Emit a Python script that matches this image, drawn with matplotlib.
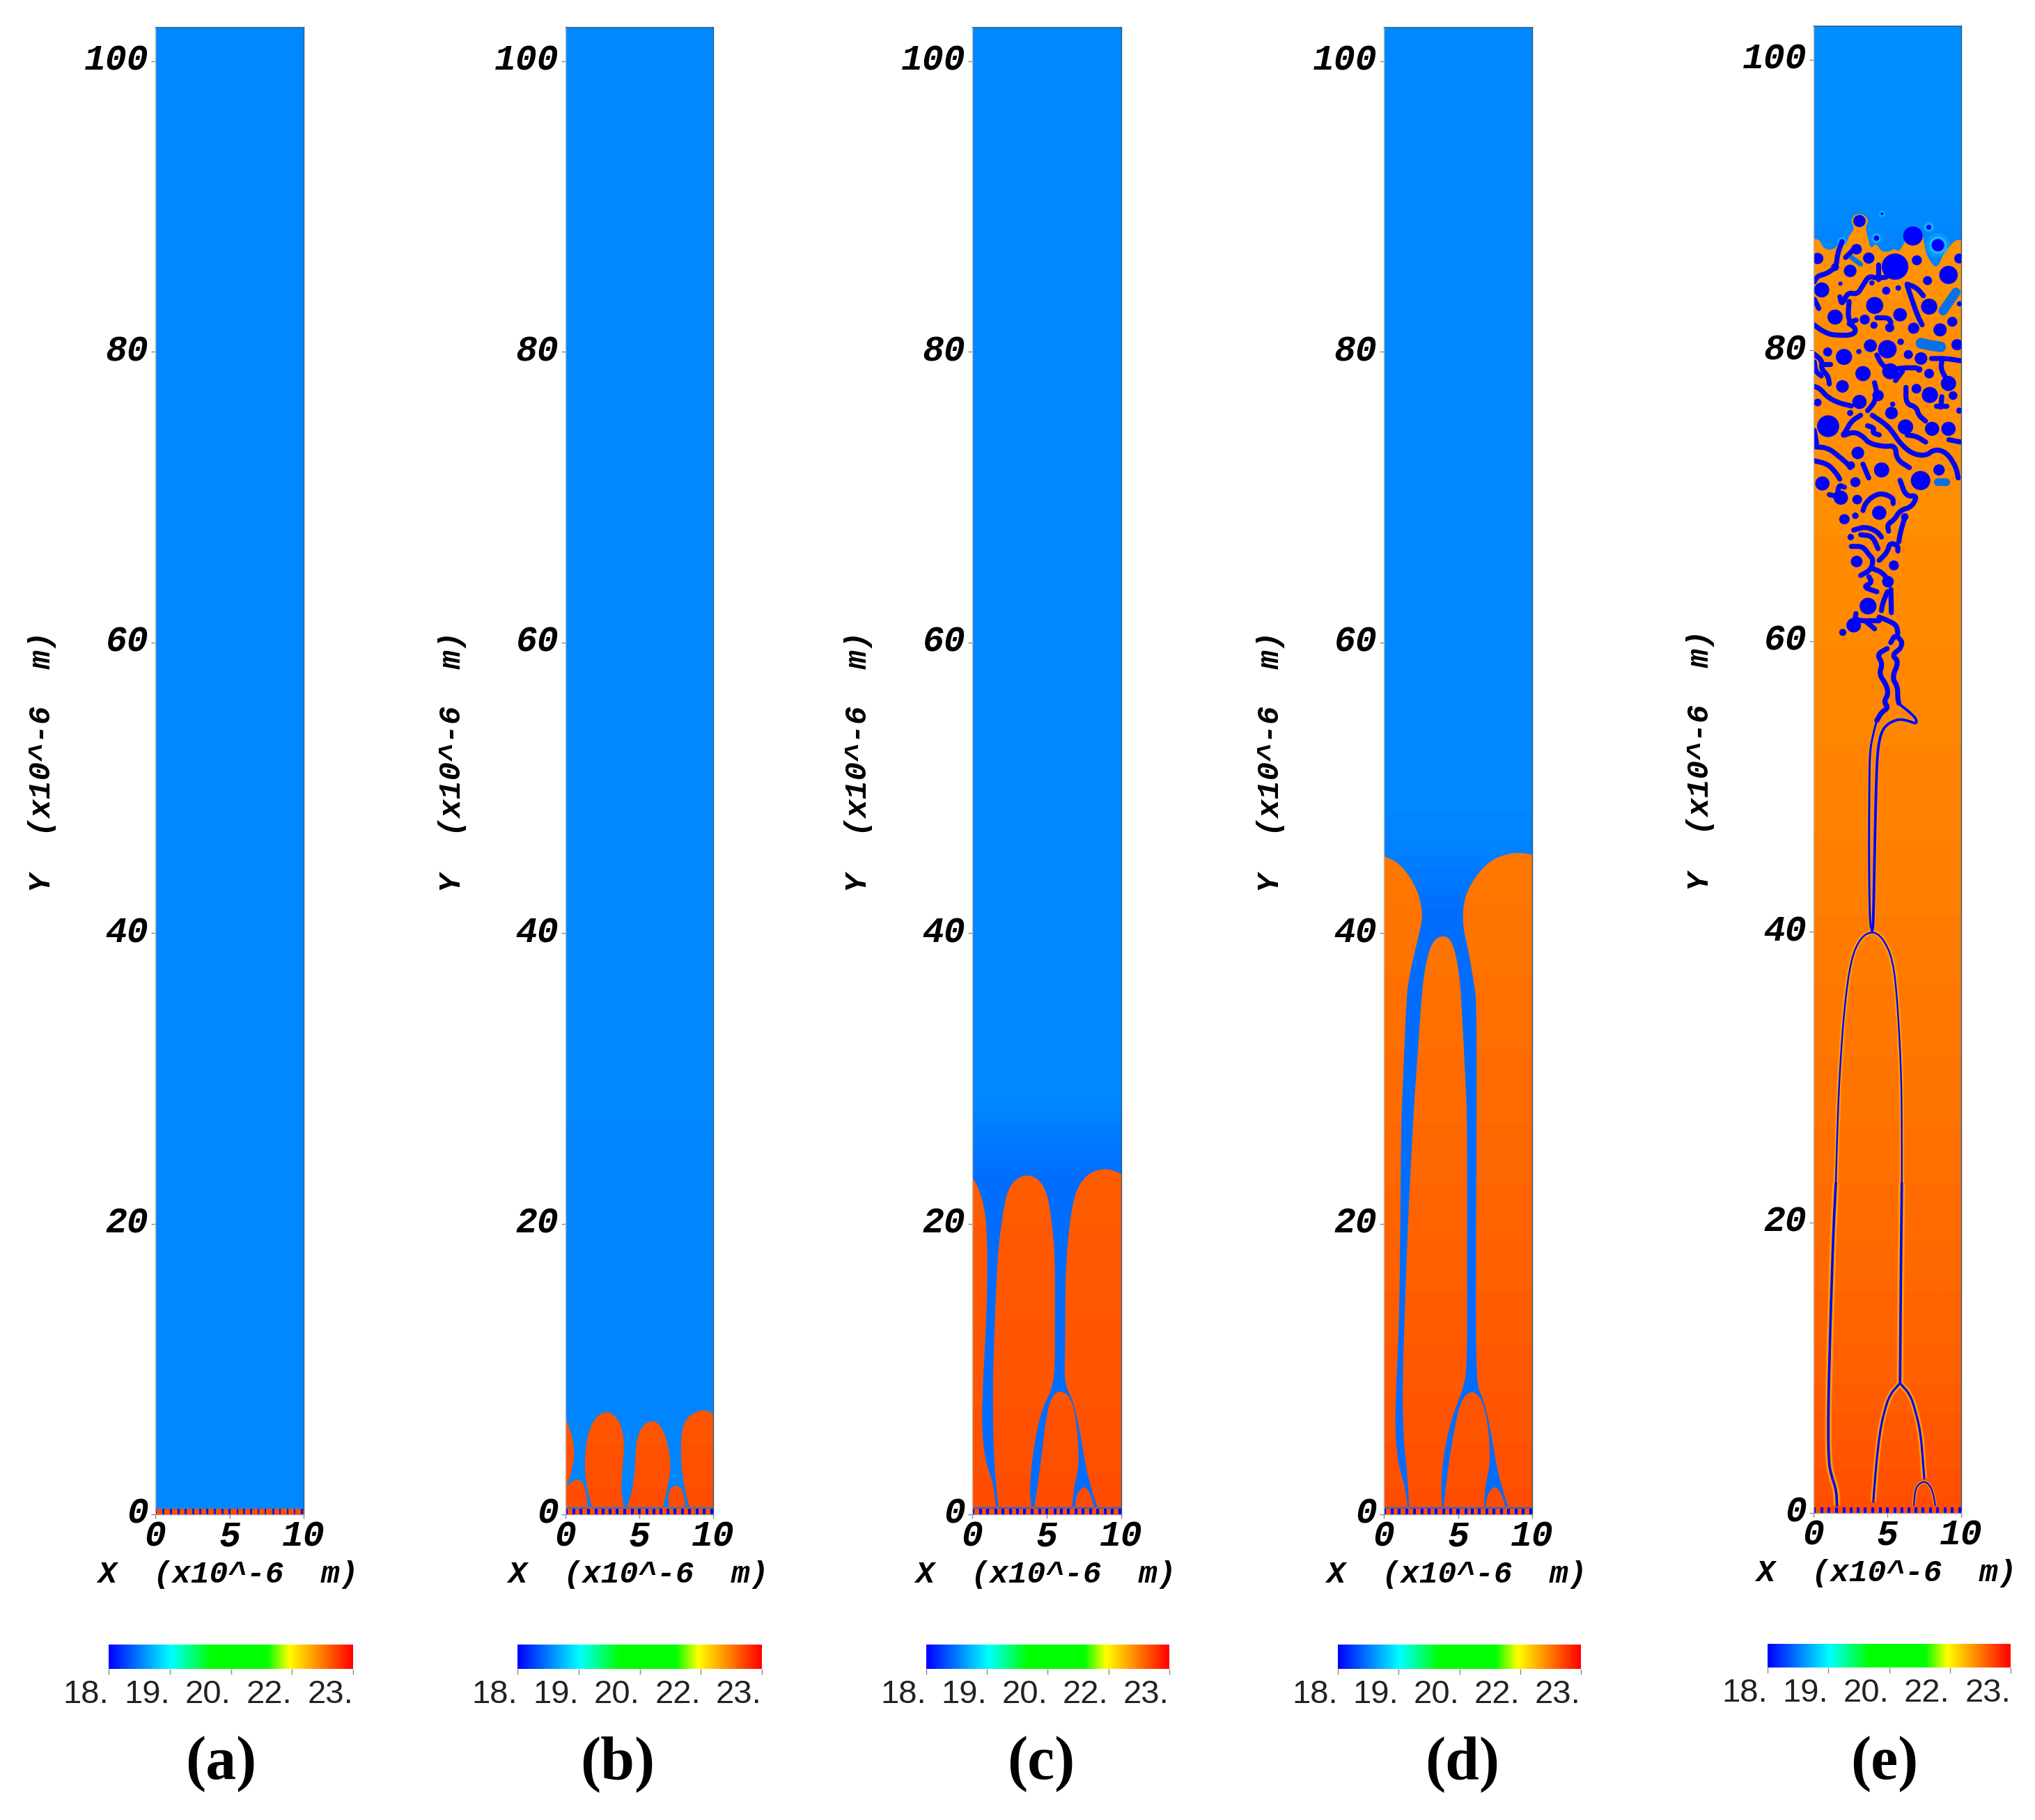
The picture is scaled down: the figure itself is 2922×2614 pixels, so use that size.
import numpy as np
import matplotlib
matplotlib.use("Agg")
import matplotlib.pyplot as plt
from matplotlib.colors import LinearSegmentedColormap
from matplotlib.path import Path
from matplotlib.patches import PathPatch, Circle
from matplotlib.transforms import ScaledTranslation

W, H = 2922, 2614
panel_names = ["(a)", "(b)", "(c)", "(d)", "(e)"]
x_ticks = [0, 5, 10]
y_ticks = [0, 20, 40, 60, 80, 100]
cbar_labels = ["18.", "19.", "20.", "22.", "23."]
cbar_values = [18, 19.25, 20.5, 21.75, 23]

# gate-contact dots along the bottom wall
dot_x = [0.05,.55,1.04,1.57,2.06,2.56,3.03,3.5,4.02,4.52,5.0,5.54,5.98,6.45,6.95,7.42,7.94,8.4,8.92,9.39,9.89]

# vertical profile of the field: (height, value)
blue_a = ([0, 103], [18.70, 18.70])
blue_b = ([0, 10, 103], [18.66, 18.68, 18.70])
blue_c = ([0, 23, 26, 29, 103], [18.56, 18.56, 18.62, 18.70, 18.70])
blue_d = ([0, 41, 46, 50, 103], [18.55, 18.55, 18.66, 18.70, 18.70])
blue_e = ([0, 86, 92, 103], [18.6, 18.66, 18.72, 18.72])
orange_a = ([0, 103], [22.6, 22.6])
orange_b = ([0, 8], [22.6, 22.55])
orange_c = ([0, 10, 24], [22.6, 22.56, 22.52])
orange_d = ([0, 10, 25, 46], [22.6, 22.54, 22.46, 22.38])
orange_e = ([0, 10, 25, 45, 65, 90], [22.6, 22.5, 22.42, 22.34, 22.28, 22.25])

base_layer = [(0,0),(10,0),(10,.49),(0,.49)]

# panel (b) finger outlines
b_f1 = [(0,6.6),(.38,5.67),(.61,4.39),(.5,3.27),(.22,2.3),(0,1.76)]
b_f2 = [(0,1.76),(.3,2.16),(.77,2.43),(1.16,2.24),(1.4,1.52),(1.5,.4),(0,.4)]
b_f3 = [(1.82,.4),(1.4,2.0),(1.29,3.43),(1.4,5.03),(1.79,6.31),(2.34,6.92),(2.74,7.06),(3.29,6.87),(3.76,6.15),(4.0,4.87),(3.84,2.96),(3.76,1.68),(3.96,.4)]
b_f4 = [(4.1,.4),(4.47,1.36),(4.7,2.96),(4.78,5.03),(5.17,6.07),(5.85,6.5),(6.43,6.15),(6.9,5.03),(7.14,3.43),(6.98,2.16),(6.59,.4)]
b_f5 = [(7.01,.4),(6.95,1.36),(7.14,1.84),(7.48,2.0),(7.85,1.8),(8.11,1.04),(8.08,.4)]
b_f6 = [(8.43,.4),(8.08,1.68),(7.8,3.59),(7.85,5.83),(8.32,6.79),(9.18,7.19),(9.73,7.11),(10,6.87),(10,.4)]

# panel (c) finger outlines
c_f1 = [(0,.4),(0,23.2),(.42,22.5),(.87,20.9),(1.01,18.8),(1.01,15.8),(.96,13.9),(.87,11.9),(.72,9.0),(.63,6.06),(.87,3.7),(1.4,2.15),(1.61,.4)]
c_f2 = [(1.76,.4),(1.46,3.5),(1.37,8.0),(1.46,11.9),(1.61,15.8),(1.76,18.4),(2.0,20.3),(2.3,22.1),(2.81,23.0),(3.61,23.4),(4.45,23.1),(5.04,22.1),(5.34,20.1),(5.55,17.8),(5.55,13.9),(5.55,10.0),(5.34,8.6),(4.75,7.4),(4.3,5.67),(3.94,3.13),(3.85,1.37),(4.0,.4)]
c_f3 = [(4.15,.4),(4.6,3.5),(4.9,6.26),(5.25,8.0),(5.85,8.57),(6.6,8.1),(6.99,6.45),(7.2,3.5),(6.84,1.96),(6.69,.4)]
c_f4 = [(6.9,.4),(6.99,1.37),(7.49,2.01),(7.97,1.37),(8.18,.4)]
c_f5 = [(8.42,.4),(7.88,2.15),(7.58,3.5),(7.13,6.26),(6.69,8.0),(6.18,9.0),(6.24,11.9),(6.24,15.8),(6.39,18.8),(6.78,21.7),(7.28,22.9),(8.03,23.6),(8.93,23.8),(9.67,23.6),(10,23.4),(10,.4)]

# panel (d) finger outlines
d_f1 = [(0,.4),(0,45.3),(.9,44.9),(1.69,44.0),(2.32,42.8),(2.63,41.3),(2.4,40.0),(2.0,38.4),(1.69,36.8),(1.53,35.6),(1.3,30),(1.17,27),(1.11,20),(1.05,14),(.85,9),(.75,6),(.96,3.5),(1.41,2.0),(1.62,.4)]
d_f2 = [(1.71,.4),(1.6,2.5),(1.3,5.5),(1.26,9),(1.41,14),(1.62,20),(2.0,27.6),(2.3,32),(2.52,35.2),(2.63,36.5),(2.87,38.1),(3.26,39.4),(3.89,39.85),(4.52,39.6),(4.91,38.3),(5.15,36.5),(5.23,35.2),(5.5,30),(5.62,27),(5.62,17),(5.62,10),(5.32,8.6),(4.86,7.4),(4.32,5.67),(3.9,3.13),(3.87,1.17),(3.96,.4)]
d_f3 = [(4.02,.4),(4.32,3.13),(4.71,5.67),(5.17,7.8),(5.89,8.57),(6.58,8.0),(7.03,6.26),(7.2,3.5),(6.82,1.96),(6.76,.4)]
d_f4 = [(6.85,.4),(6.97,1.37),(7.48,2.01),(7.96,1.37),(8.23,.4)]
d_f5 = [(8.41,.4),(7.87,2.15),(7.57,3.5),(7.12,6.26),(6.67,8.0),(6.22,9.0),(6.2,17),(6.25,27),(6.25,35.2),(6.09,36.5),(5.7,38.8),(5.34,40.4),(5.34,41.8),(5.62,42.9),(6.25,44.0),(7.19,45.0),(8.14,45.4),(9.08,45.55),(10,45.4),(10,.4)]

# panel (e) top of the orange region
e_region = [(0,0),(10,0),(10,87.6),(9.64,87.6),(9.32,87.3),(8.85,86.8),(8.54,86.0),(8.3,85.7),(7.99,86.0),(7.6,86.7),(7.44,87.7),(7.28,88.2),(6.8,88.6),(6.33,88.4),(6.1,88.0),(6.26,87.6),(6.02,87.2),(5.78,86.8),(5.47,87.0),(5.08,86.8),(4.6,86.8),(4.21,87.4),(3.9,87.0),(3.74,87.5),(3.5,88.5),(3.74,88.9),(3.5,89.3),(3.11,89.4),(2.72,89.3),(2.53,88.9),(2.8,88.4),(2.4,87.9),(2.17,87.2),(1.78,87.4),(1.3,86.9),(.68,87.0),(.44,87.6),(0,87.7)]

# panel (e) droplets: x, y, radius
drop_x = [3.11,4.26,1.93,2.91,3.74,5.52,.28,7.0,6.73,7.81,8.43,4.64,9.14,2.48,7.72,.55,3.95,1.46,4.14,7.83,1.46,5.86,3.47,9.4,5.16,6.78,8.57,4.92,5.74,9.87,1.82,4.09,9.89,
          2.06,5.0,3.85,7.28,6.42,.96,3.35,5.2,7.83,7.15,9.14,1.96,6.97,7.88,9.45,4.37,3.11,.28,5.36,5.28,2.48,.99,6.23,8.03,9.14,4.61,8.5,3.0,2.53,9.87,3.07,5.9,9.72,
          .6,2.83,7.25,1.85,2.96,4.45,2.09,2.83,2.52,2.92,5.44,5.04,3.69,2.72,1.98,6.18]
drop_y = [88.91,87.73,87.49,86.97,86.36,85.77,86.33,86.21,87.88,88.48,87.25,89.41,85.2,85.48,84.81,84.17,84.65,85.74,83.1,83.02,82.3,82.46,82.13,81.98,81.57,81.53,81.42,84.12,84.3,86.33,84.6,81.74,83.21,
          79.56,80.09,80.33,79.45,79.72,79.9,78.41,78.57,78.41,78.7,77.73,77.53,77.37,76.94,76.9,76.9,76.46,76.42,76.3,75.7,75.7,74.79,74.74,74.61,74.61,71.78,71.78,72.95,72.1,75.86,79.93,80.6,80.4,
          70.85,70.94,71.05,69.87,69.74,68.83,68.39,68.63,67.16,65.48,65.21,64.09,62.41,61.09,60.6,68.55]
drop_r = [.38,.17,.16,.33,.35,.82,.35,.31,.6,.16,.39,.09,.57,.39,.28,.47,.16,.24,.53,.5,.47,.42,.31,.31,.28,.35,.41,.25,.17,.31,.13,.22,.16,
          .5,.57,.4,.39,.28,.28,.47,.5,.3,.2,.47,.39,.3,.5,.27,.35,.44,.24,.16,.39,.19,.68,.47,.44,.44,.47,.35,.39,.25,.19,.16,.2,.35,
          .44,.31,.6,.44,.3,.44,.32,.2,.2,.36,.31,.36,.52,.45,.22,.23]
glow_x = [7.81, 8.43, 4.64, 4.26, 1.93]
glow_y = [88.48, 87.25, 89.41, 87.73, 87.49]
glow_r = [.2, .42, .12, .2, .18]

# panel (e) light-blue blobs: path + width in points
light_blobs = [
    ([(9.64,84.01),(8.77,82.73)], 9.5),
    ([(7.28,80.5),(7.95,80.35),(8.61,80.25)], 11),
    ([(2.56,86.41),(3.19,85.93)], 5),
    ([(8.4,70.98),(8.95,70.98)], 8),
]
# panel (e) blue ligaments
worms = [
 [(1.93,87.49),(1.62,86.65),(1.54,85.77),(.91,85.29),(.28,85.13),(.05,84.73)],
 [(2.17,86.4),(2.72,86.97)],
 [(1.78,83.69),(1.93,83.13),(2.32,84.01),(2.96,83.85),(3.35,84.49),(3.74,85.13),(4.29,84.97),(4.92,85.05)],
 [(4.37,85.93),(4.37,84.89)],
 [(2.41,83.37),(2.33,82.41),(2.48,81.93),(2.88,82.09)],
 [(6.34,84.49),(6.65,83.53),(7.04,82.41),(7.36,81.77)],
 [(6.34,84.57),(6.97,84.33),(7.44,83.77)],
 [(.02,81.77),(.68,81.29),(1.31,81.05),(2.72,81.05),(2.88,81.53),(2.41,81.85)],
 [(4.29,82.25),(5.08,82.25),(5.24,81.93)],
 [(.05,83.53),(.36,82.89)],
 [(.02,79.77),(.6,79.29),(.52,78.73),(.99,78.25),(1.07,77.7)],
 [(.6,79.05),(1.15,79.05)],
 [(.05,79.21),(.13,78.57),(.52,78.25)],
 [(.02,77.54),(.44,77.38),(.91,76.82),(1.62,76.42),(2.56,76.18)],
 [(4.29,79.69),(4.6,79.05),(5.16,78.65),(6.02,78.81),(6.97,78.81)],
 [(7.99,79.45),(9.01,79.45),(9.95,79.29)],
 [(8.69,79.29),(8.62,78.73),(9.01,78.01)],
 [(6.26,77.46),(6.26,76.34),(6.97,76.1),(7.12,75.54),(7.59,75.14)],
 [(8.69,76.82),(8.62,76.1)],
 [(8.3,76.18),(9.01,76.18)],
 [(3.19,75.54),(2.56,75.14),(2.17,74.42),(1.93,74.1),(2.72,74.42),(3.35,74.1),(3.74,73.62),(4.76,73.38),(5.55,73.46),(5.63,72.5),(6.49,71.94)],
 [(3.98,75.54),(4.92,74.9),(5.39,74.34),(5.86,73.62),(6.65,72.9),(7.59,72.74),(8.22,73.22),(9.01,72.98),(9.64,72.02),(9.8,71.23)],
 [(3.66,74.82),(4.13,74.66),(3.98,74.34),(4.45,74.19)],
 [(6.34,74.18),(6.97,74.1),(7.59,73.7)],
 [(.02,73.38),(.99,73.3),(1.78,72.66),(2.33,72.18),(2.48,71.94)],
 [(.02,72.42),(.99,72.18),(1.54,71.55),(1.78,71.15)],
 [(3.35,72.18),(3.74,71.23)],
 [(.05,74.5),(.2,73.62)],
 [(9.17,73.86),(9.95,73.7)],
 [(3.66,75.86),(4.13,76.42),(4.29,77.14),(4.13,77.78)],
 [(5.55,77.93),(6.02,78.57)],
 [(1.07,70.08),(1.62,69.95),(1.7,70.75),(2.09,70.59)],
 [(3.35,68.99),(3.51,69.47),(3.98,69.95),(4.6,70.19),(5.39,69.87),(5.39,69.47)],
 [(5.86,71.07),(6.26,69.95),(7.04,70.03),(6.65,69.23),(5.86,69.0),(5.47,68.35),(5.0,68.03),(5.08,67.56)],
 [(6.18,68.51),(5.86,67.4),(5.78,66.84)],
 [(2.72,67.64),(3.51,67.88),(4.29,67.56),(4.6,67.16)],
 [(3.19,67.32),(3.98,67.24),(4.37,66.36)],
 [(2.56,66.52),(3.35,66.52),(3.74,65.96),(4.05,65.64),(3.9,64.92),(3.19,64.52)],
 [(4.45,65.56),(5.0,66.12),(5.16,66.76),(5.71,66.6),(5.71,66.2)],
 [(3.98,65.0),(4.6,64.76),(5.08,64.2)],
 [(3.74,64.44),(3.98,64.04),(3.35,63.72),(4.29,63.4)],
 [(5.0,63.4),(4.68,62.6),(4.6,62.1)],
 [(5.24,63.56),(5.27,61.96)],
 [(2.87,61.89),(2.79,61.4),(4.44,61.4)],
 [(4.44,61.65),(5.08,61.4),(5.63,61.09),(5.71,60.53)],
 [(3.58,61.33),(4.13,60.85)],
 [(5.23,59.9),(5.54,60.45),(6.01,59.97),(5.93,59.65)],
 [(4.99,59.49),(4.29,59.09),(4.68,58.45),(4.44,57.73),(4.92,57.01),(5.07,56.38),(4.76,55.82),(5.07,55.42),(4.6,55.1),(4.29,54.54)],
 [(5.86,59.49),(5.31,59.01),(5.78,58.61),(5.31,57.49),(5.7,56.85),(5.7,56.05),(5.78,55.73)],
]
# panel (e) long thin channels: path, width in points, halo in points
stems = [
 ([(1.59,.54),(1.54,1.58),(1.22,2.54),(1.02,3.5),(.99,6.69),(1.1,11.5),(1.22,15.5),(1.35,19.5),(1.51,22.7)], 2.6, 7),
 ([(1.51,22.7),(1.6,26),(1.75,30),(2.1,35),(2.56,38.2),(3.19,39.6),(3.97,40.05),(4.68,39.6),(5.38,38.1),(5.7,35),(5.95,30),(5.98,26),(5.98,22.7)], 1.7, 5),
 ([(5.98,22.7),(5.93,17.9),(5.89,13.1),(5.86,8.93)], 2.6, 7),
 ([(3.97,40.05),(3.81,40.56),(3.75,45.2),(3.78,50),(3.81,52.4),(4.05,53.66),(4.36,54.8)], 2.2, 4),
 ([(3.97,40.05),(4.05,40.56),(4.13,45.2),(4.24,50),(4.33,52.4),(4.57,53.7),(4.99,54.3),(5.77,54.65),(6.48,54.5),(6.95,54.3),(6.98,54.6),(6.64,55),(5.77,55.7)], 2.8, 4),
 ([(5.86,8.93),(5.15,8.13),(4.76,6.85),(4.52,5.73),(4.29,3.82),(4.13,1.9),(4.05,.78)], 2.2, 6),
 ([(5.86,8.93),(6.56,8.13),(6.95,6.85),(7.27,5.42),(7.5,2.38)], 2.2, 6),
 ([(6.8,.54),(6.88,1.58),(7.11,1.98),(7.5,2.19),(7.89,1.9),(8.13,1.26),(8.24,.54)], 1.6, 3.5),
]

# colour scale of the contour plot
scale_pos = [0, .255, .42, .65, .74, 1]
scale_col = ["#0000ff", "#00ffff", "#00ff00", "#00ff00", "#ffff00", "#ff0000"]
cmap = LinearSegmentedColormap.from_list("contour", list(zip(scale_pos, scale_col)))
VMIN, VMAX = 18, 23

# pixel placement
panel_left = [223, 812, 1396, 1987, 2604]
panel_right = [436, 1024, 1610, 2200, 2816]
panel_top = [39, 39, 39, 39, 37]
panel_bottom = [2175, 2175, 2175, 2175, 2173]
cbar_left = [156, 743, 1330, 1921, 2538]
cbar_right = [507, 1094, 1679, 2270, 2887]
cbar_top = [2362, 2362, 2362, 2362, 2361]
cbar_bottom = [2397, 2397, 2397, 2397, 2395]
letter_x = [317, 887, 1495, 2100, 2706]
letter_y = 2534
PX_PER_Y = 20.87

tick_font = dict(family="Liberation Mono", weight="bold", style="italic")
DPI = 100
fig = plt.figure(figsize=(W / DPI, H / DPI), dpi=DPI, facecolor="white")


def on_wall(p):
    return p[0] <= 0 or p[0] >= 10 or p[1] <= .5


def smooth_closed(points, rounds=2):
    """Corner-cut a closed outline, keeping the vertices that lie on the panel walls."""
    p = [np.asarray(q, float) for q in points]
    for _ in range(rounds):
        out = []
        n = len(p)
        for k in range(n):
            a, b, c = p[k - 1], p[k], p[(k + 1) % n]
            if on_wall(b):
                out.append(b)
            else:
                out += [b * .75 + a * .25, b * .75 + c * .25]
        p = out
    return np.array(p)


def chaikin(points, rounds=2):
    p = np.asarray(points, float)
    for _ in range(rounds):
        q = [p[0]]
        for a, b in zip(p[:-1], p[1:]):
            q += [a * .75 + b * .25, a * .25 + b * .75]
        q.append(p[-1])
        p = np.array(q)
    return p


def px_axes(l, r, t, b):
    return fig.add_axes([l / W, 1 - b / H, (r - l) / W, (b - t) / H])


def field(ax, knots, ytop):
    ys = np.linspace(0, ytop, 1200)
    vals = np.interp(ys, knots[0], knots[1])[:, None]
    return ax.imshow(vals, origin="lower", extent=(0, 10, 0, ytop), aspect="auto",
                     cmap=cmap, vmin=VMIN, vmax=VMAX, interpolation="bilinear", zorder=1)


def draw_panel(i, blue, orange, shapes):
    ax = px_axes(panel_left[i], panel_right[i], panel_top[i], panel_bottom[i])
    ytop = (panel_bottom[i] - panel_top[i]) / PX_PER_Y
    field(ax, blue, ytop)
    paths = []
    for s in shapes:
        pts = smooth_closed(s)
        paths.append(Path(np.vstack([pts, pts[0]]), closed=True))
    im = field(ax, orange, ytop)
    im.set_zorder(2)
    patch = PathPatch(Path.make_compound_path(*paths), transform=ax.transData, fc="none", ec="none")
    ax.add_patch(patch)
    im.set_clip_path(patch)
    ax.set_xlim(0, 10)
    ax.set_ylim(0, ytop)
    ax.set_xticks(x_ticks)
    ax.set_yticks(y_ticks)
    ax.tick_params(length=4, width=1, color="#888888", labelsize=37)
    ax.tick_params(axis="y", pad=3)
    ax.tick_params(axis="x", pad=4)
    up6 = ScaledTranslation(0, 6 / DPI, fig.dpi_scale_trans)
    up3 = ScaledTranslation(0, 3 / DPI, fig.dpi_scale_trans)
    for lab in ax.get_yticklabels():
        lab.set(**tick_font)
        lab.set_transform(lab.get_transform() + up6)
    for lab in ax.get_xticklabels():
        lab.set(**tick_font)
        lab.set_transform(lab.get_transform() + up3)
    ax.set_xlabel("X  (x10^-6  m)", fontsize=32, **tick_font)
    ax.set_ylabel("Y  (x10^-6  m)", fontsize=32, **tick_font)
    ax.xaxis.set_label_coords(.493, -.0405)
    ax.xaxis.label.set_va("center")
    ax.yaxis.set_label_coords(-.765, .506)
    ax.yaxis.label.set_va("center")
    for name, sp in ax.spines.items():
        sp.set_linewidth(1.0)
        sp.set_color({"left": "#c8b8a8", "bottom": "#999999"}.get(name, "#2a5a80"))
        sp.set_zorder(8)
    return ax


def wall_dots(ax, width=.19, height=.4, color="#0000ff"):
    ax.bar(dot_x, height, width=width, bottom=0, color=color, linewidth=0, zorder=6)


# panel a
ax = draw_panel(0, blue_a, orange_a, [[(0,0),(10,0),(10,.4),(0,.4)]])
wall_dots(ax, width=.13, color="#1018e0")

# panels b, c, d
ax = draw_panel(1, blue_b, orange_b, [base_layer, b_f1, b_f2, b_f3, b_f4, b_f5, b_f6])
wall_dots(ax)
ax = draw_panel(2, blue_c, orange_c, [base_layer, c_f1, c_f2, c_f3, c_f4, c_f5])
wall_dots(ax)
ax = draw_panel(3, blue_d, orange_d, [base_layer, d_f1, d_f2, d_f3, d_f4, d_f5])
wall_dots(ax)

# panel e
ax = draw_panel(4, blue_e, orange_e, [e_region])
for x, y, r in zip(glow_x, glow_y, glow_r):
    ax.add_patch(Circle((x, y), r * 2.0, fc="#10b4ff", ec="none", alpha=.35, zorder=3))
    ax.add_patch(Circle((x, y), r * 1.45, fc="#30d8ff", ec="none", alpha=.5, zorder=3))
for pts, w in light_blobs:
    p = np.asarray(pts)
    ax.plot(p[:, 0], p[:, 1], color="#0a70e8", lw=w, solid_capstyle="round", zorder=4)
for pts, lw, halo in stems:
    p = chaikin(pts, 2)
    ax.plot(p[:, 0], p[:, 1], color="#ffa800", lw=halo, alpha=.8, solid_capstyle="butt", zorder=3)
for pts, lw, halo in stems:
    p = chaikin(pts, 2)
    ax.plot(p[:, 0], p[:, 1], color="#0000ff", lw=lw, solid_capstyle="round", solid_joinstyle="round", zorder=5)
for w in worms:
    p = chaikin(w, 2)
    ax.plot(p[:, 0], p[:, 1], color="#0505f5", lw=5.2, solid_capstyle="round", solid_joinstyle="round", zorder=5)
for x, y, r in zip(drop_x, drop_y, drop_r):
    ax.add_patch(Circle((x, y), r * 1.1, fc="#0000ff", ec="none", zorder=5))
wall_dots(ax)

# colour bars
grad = np.linspace(VMIN, VMAX, 512)[None, :]
for i in range(5):
    cax = px_axes(cbar_left[i], cbar_right[i], cbar_top[i], cbar_bottom[i])
    cax.imshow(grad, extent=(VMIN, VMAX, 0, 1), aspect="auto", cmap=cmap, vmin=VMIN, vmax=VMAX)
    cax.set_yticks([])
    cax.set_xticks(cbar_values)
    cax.set_xticklabels(cbar_labels, fontsize=34, ha="right", family="Liberation Sans", color="#222222")
    cax.tick_params(axis="x", length=6, width=1, color="#888888", pad=5)
    for sp in cax.spines.values():
        sp.set_visible(False)
    fig.text(letter_x[i] / W, 1 - letter_y / H, panel_names[i], ha="center", va="center",
             fontsize=63, family="Liberation Serif", weight="bold", color="black")

fig.savefig("out.png", dpi=DPI, facecolor="white")
